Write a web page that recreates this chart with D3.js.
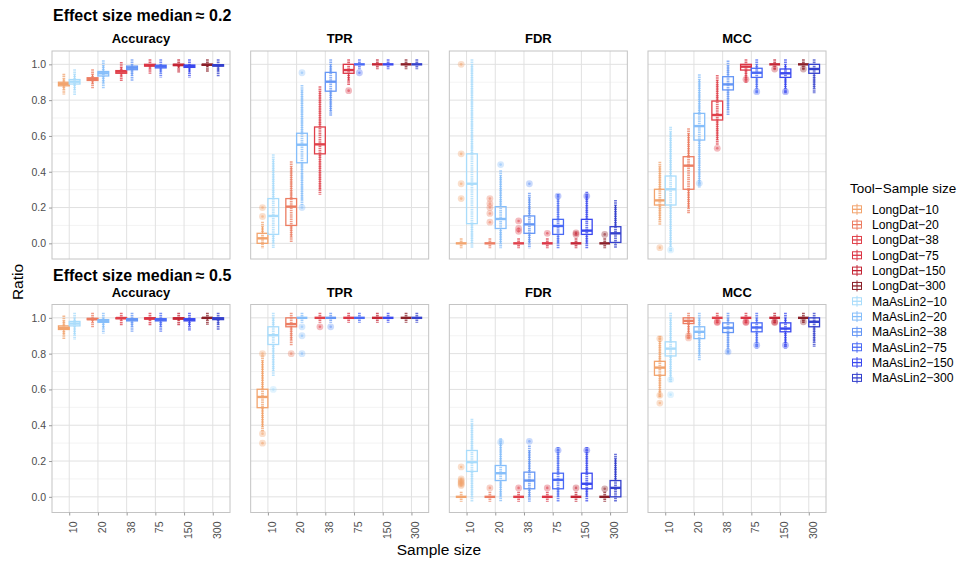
<!DOCTYPE html>
<html>
<head>
<meta charset="utf-8">
<script src="https://cdn.jsdelivr.net/npm/d3@7"></script>
<style>
  body { margin: 0; background: #fff; }
  text { font-family: "Liberation Sans", Arial, Helvetica, sans-serif; }
</style>
</head>
<body>
<svg id="chart" width="968" height="563"></svg>
<script>
// ---- categories ----
const sizes = ["10", "20", "38", "75", "150", "300"];
const tools = ["LongDat", "MaAsLin2"];
const metrics = ["Accuracy", "TPR", "FDR", "MCC"];
const effectTitles = ["Effect size median\u2009\u2248 0.2", "Effect size median\u2009\u2248 0.5"];
const yTicks = [0, 0.2, 0.4, 0.6, 0.8, 1.0];
const yMinor = [0.1, 0.3, 0.5, 0.7, 0.9];

// ---- colours, one per sample size ----
const colorsLongDat = ["#f2a46e", "#ec7d62", "#e0404a", "#db3545", "#c42535", "#8a1f28"];
const colorsMaAsLin2 = ["#a9dcfb", "#86befa", "#6596f5", "#4a6af5", "#3a48ef", "#3440cc"];

// ---- box statistics: [lower whisker, Q1, median, Q3, upper whisker] per sample size ----
// effect size median ~ 0.2
const acc02LongDat  = [[0.86,0.88,0.89,0.90,0.92],[0.89,0.91,0.918,0.925,0.945],[0.93,0.95,0.959,0.965,0.985],[0.975,0.99,0.995,1,1],[0.98,0.993,0.997,1,1],[0.985,0.995,0.998,1,1]];
const acc02MaAsLin2 = [[0.855,0.89,0.903,0.915,0.945],[0.895,0.935,0.95,0.96,0.995],[0.935,0.97,0.981,0.99,1],[0.955,0.98,0.988,0.995,1],[0.955,0.983,0.99,0.996,1],[0.96,0.99,0.995,0.998,1]];
const tpr02LongDat  = [[0,0,0.028,0.056,0.093],[0.035,0.1,0.205,0.25,0.43],[0.3,0.5,0.553,0.65,0.85],[0.91,0.95,0.968,1,1],[1,1,1,1,1],[1,1,1,1,1]];
const tpr02MaAsLin2 = [[0,0.05,0.153,0.25,0.47],[0.24,0.45,0.551,0.615,0.857],[0.736,0.85,0.903,0.955,1],[1,1,1,1,1],[1,1,1,1,1],[1,1,1,1,1]];
const fdr02LongDat  = [[0,0,0,0,0],[0,0,0,0,0],[0,0,0,0,0],[0,0,0,0,0],[0,0,0,0,0],[0,0,0,0,0]];
const fdr02MaAsLin2 = [[0,0.11,0.333,0.5,1],[0,0.083,0.136,0.205,0.38],[0,0.056,0.106,0.153,0.255],[0,0.05,0.097,0.134,0.248],[0,0.05,0.071,0.134,0.26],[0,0.005,0.056,0.093,0.214]];
const mcc02LongDat  = [[0.13,0.214,0.24,0.302,0.428],[0.196,0.302,0.434,0.484,0.615],[0.577,0.689,0.717,0.795,0.912],[0.922,0.968,0.987,1,1],[1,1,1,1,1],[1,1,1,1,1]];
const mcc02MaAsLin2 = [[-0.02,0.214,0.302,0.376,0.624],[0.34,0.577,0.655,0.726,0.916],[0.745,0.857,0.888,0.931,0.993],[0.866,0.927,0.953,0.978,1],[0.866,0.927,0.95,0.974,1],[0.866,0.95,0.974,1,1]];
// effect size median ~ 0.5
const acc05LongDat  = [[0.905,0.935,0.944,0.955,0.985],[0.975,0.99,0.993,0.997,1],[0.985,0.995,0.999,1,1],[0.985,0.993,0.997,1,1],[0.985,0.993,0.997,1,1],[0.99,0.997,1,1,1]];
const acc05MaAsLin2 = [[0.905,0.955,0.968,0.98,1],[0.94,0.975,0.983,0.99,1],[0.95,0.983,0.99,0.995,1],[0.95,0.983,0.99,0.995,1],[0.955,0.983,0.99,0.995,1],[0.96,0.99,0.996,1,1]];
const tpr05LongDat  = [[0.39,0.498,0.558,0.601,0.763],[0.875,0.95,0.965,1,1],[1,1,1,1,1],[1,1,1,1,1],[1,1,1,1,1],[1,1,1,1,1]];
const tpr05MaAsLin2 = [[0.703,0.851,0.903,0.95,1],[1,1,1,1,1],[1,1,1,1,1],[1,1,1,1,1],[1,1,1,1,1],[1,1,1,1,1]];
const fdr05LongDat  = [[0,0,0,0,0],[0,0,0,0,0],[0,0,0,0,0],[0,0,0,0,0],[0,0,0,0,0],[0,0,0,0,0]];
const fdr05MaAsLin2 = [[0,0.142,0.194,0.259,0.409],[0,0.091,0.132,0.175,0.3],[0,0.045,0.091,0.138,0.259],[0,0.045,0.095,0.132,0.25],[0,0.045,0.073,0.132,0.25],[0,0,0.05,0.091,0.213]];
const mcc05LongDat  = [[0.58,0.679,0.722,0.757,0.87],[0.912,0.968,0.983,1,1],[1,1,1,1,1],[1,1,1,1,1],[1,1,1,1,1],[1,1,1,1,1]];
const mcc05MaAsLin2 = [[0.67,0.787,0.828,0.866,1],[0.791,0.884,0.922,0.95,1],[0.828,0.918,0.944,0.972,1],[0.856,0.922,0.946,0.972,1],[0.856,0.922,0.94,0.972,1],[0.866,0.95,0.978,1,1]];

// ---- outliers per sample size ----
const acc02LongDatOut  = [[],[],[],[],[],[]];
const acc02MaAsLin2Out = [[],[],[],[],[],[]];
const tpr02LongDatOut  = [[0.15,0.2],[],[],[0.853],[],[]];
const tpr02MaAsLin2Out = [[],[0.2,0.953],[],[0.953],[],[]];
const fdr02LongDatOut  = [[1,0.5,0.333,0.25],[0.25,0.222,0.2,0.167,0.118],[0.125,0.083,0.067],[0.056],[0.059,0.05],[0.05]];
const fdr02MaAsLin2Out = [[],[0.44],[0.333],[0.264],[0.264],[]];
const mcc02LongDatOut  = [[-0.024],[],[0.531],[0.916],[0.974],[0.974]];
const mcc02MaAsLin2Out = [[-0.037],[0.335],[],[0.847],[0.847],[]];
const acc05LongDatOut  = [[],[],[],[],[],[]];
const acc05MaAsLin2Out = [[],[],[],[],[],[]];
const tpr05LongDatOut  = [[0.8,0.353,0.3],[0.8],[0.95],[],[],[]];
const tpr05MaAsLin2Out = [[0.6],[0.95,0.9,0.8],[0.95],[],[],[]];
const fdr05LongDatOut  = [[0.167,0.1,0.091,0.083,0.077,0.071,0.063],[0.05],[0.05],[0.05],[0.05],[0.045]];
const fdr05MaAsLin2Out = [[],[0.306],[0.31],[0.26],[0.26],[]];
const mcc05LongDatOut  = [[0.884,0.567,0.524],[0.9,0.888],[0.978,0.974],[0.978,0.974],[0.978,0.974],[0.978]];
const mcc05MaAsLin2Out = [[0.655,0.571],[],[0.81],[0.847],[0.847],[]];

const panels = [
  { row: 0, metric: "Accuracy", LongDat: acc02LongDat, MaAsLin2: acc02MaAsLin2, outLongDat: acc02LongDatOut, outMaAsLin2: acc02MaAsLin2Out },
  { row: 0, metric: "TPR",      LongDat: tpr02LongDat, MaAsLin2: tpr02MaAsLin2, outLongDat: tpr02LongDatOut, outMaAsLin2: tpr02MaAsLin2Out },
  { row: 0, metric: "FDR",      LongDat: fdr02LongDat, MaAsLin2: fdr02MaAsLin2, outLongDat: fdr02LongDatOut, outMaAsLin2: fdr02MaAsLin2Out },
  { row: 0, metric: "MCC",      LongDat: mcc02LongDat, MaAsLin2: mcc02MaAsLin2, outLongDat: mcc02LongDatOut, outMaAsLin2: mcc02MaAsLin2Out },
  { row: 1, metric: "Accuracy", LongDat: acc05LongDat, MaAsLin2: acc05MaAsLin2, outLongDat: acc05LongDatOut, outMaAsLin2: acc05MaAsLin2Out },
  { row: 1, metric: "TPR",      LongDat: tpr05LongDat, MaAsLin2: tpr05MaAsLin2, outLongDat: tpr05LongDatOut, outMaAsLin2: tpr05MaAsLin2Out },
  { row: 1, metric: "FDR",      LongDat: fdr05LongDat, MaAsLin2: fdr05MaAsLin2, outLongDat: fdr05LongDatOut, outMaAsLin2: fdr05MaAsLin2Out },
  { row: 1, metric: "MCC",      LongDat: mcc05LongDat, MaAsLin2: mcc05MaAsLin2, outLongDat: mcc05LongDatOut, outMaAsLin2: mcc05MaAsLin2Out }
];
const palette = { LongDat: colorsLongDat, MaAsLin2: colorsMaAsLin2 };

// ---- layout ----
const svg = d3.select("#chart");
const colScale = d3.scaleBand().domain(metrics).range([52, 826]).paddingInner(0.104);
const rowRanges = [[259, 51], [512.5, 304.5]];
const yDomain = [-0.0875, 1.0745];

svg.append("rect").attr("width", 968).attr("height", 563).attr("fill", "#fff");

// row titles
effectTitles.forEach((t, r) => {
  svg.append("text")
    .attr("x", 53).attr("y", r === 0 ? 21 : 281)
    .attr("font-size", 16).attr("font-weight", "bold").attr("fill", "#000")
    .text(t);
});

panels.forEach(p => {
  const x0 = colScale(p.metric), pw = colScale.bandwidth();
  const [yb, yt] = rowRanges[p.row];
  const x = d3.scalePoint().domain(sizes).range([x0, x0 + pw]).padding(0.6);
  const dodge = d3.scaleBand().domain(tools).range([-0.375 * x.step(), 0.375 * x.step()]);
  const y = d3.scaleLinear().domain(yDomain).range([yb, yt]);
  const g = svg.append("g");

  // strip title
  g.append("text")
    .attr("x", x0 + pw / 2).attr("y", yt - 8)
    .attr("text-anchor", "middle").attr("font-size", 13).attr("font-weight", "bold")
    .text(p.metric);

  // panel background and grid
  g.append("rect").attr("x", x0).attr("y", yt).attr("width", pw).attr("height", yb - yt).attr("fill", "#fff");
  g.selectAll(".minor").data(yMinor).join("line")
    .attr("x1", x0).attr("x2", x0 + pw)
    .attr("y1", d => y(d)).attr("y2", d => y(d))
    .attr("stroke", "#f0f0f0").attr("stroke-width", 0.8);
  g.selectAll(".major").data(yTicks).join("line")
    .attr("x1", x0).attr("x2", x0 + pw)
    .attr("y1", d => y(d)).attr("y2", d => y(d))
    .attr("stroke", "#e1e1e1").attr("stroke-width", 1);
  g.selectAll(".vgrid").data(sizes).join("line")
    .attr("x1", d => x(d)).attr("x2", d => x(d))
    .attr("y1", yt).attr("y2", yb)
    .attr("stroke", "#e1e1e1").attr("stroke-width", 1);

  // boxes
  tools.forEach(tool => {
    const stats = p[tool], outs = p["out" + tool];
    const bw = dodge.bandwidth();
    sizes.forEach((s, i) => {
      const [lo, q1, med, q3, hi] = stats[i];
      const col = palette[tool][i];
      const cx = x(s) + dodge(tool) + bw / 2;
      const bg = g.append("g");
      // whiskers
      bg.append("line").attr("x1", cx).attr("x2", cx).attr("y1", y(hi)).attr("y2", y(q3))
        .attr("stroke", col).attr("stroke-width", 1.1);
      bg.append("line").attr("x1", cx).attr("x2", cx).attr("y1", y(q1)).attr("y2", y(lo))
        .attr("stroke", col).attr("stroke-width", 1.1);
      // box
      bg.append("rect").attr("x", cx - bw / 2).attr("y", y(q3))
        .attr("width", bw).attr("height", Math.max(0, y(q1) - y(q3)))
        .attr("fill", "none").attr("stroke", col).attr("stroke-width", 1.3);
      // median
      bg.append("line").attr("x1", cx - bw / 2).attr("x2", cx + bw / 2)
        .attr("y1", y(med)).attr("y2", y(med))
        .attr("stroke", col).attr("stroke-width", 2.4);
      // strip of observations along the whisker range
      bg.append("line").attr("x1", cx).attr("x2", cx)
        .attr("y1", y(hi) - 5).attr("y2", y(lo) + 5)
        .attr("stroke", col).attr("stroke-width", 2.8)
        .attr("stroke-dasharray", "1.5 0.7").attr("opacity", 0.75);
      // outliers
      outs[i].forEach(v => {
        bg.append("circle").attr("cx", cx).attr("cy", y(v)).attr("r", 3.4)
          .attr("fill", col).attr("opacity", 0.35);
        bg.append("circle").attr("cx", cx).attr("cy", y(v)).attr("r", 1.3)
          .attr("fill", col).attr("opacity", 0.55);
      });
    });
  });

  // panel border
  g.append("rect").attr("x", x0).attr("y", yt).attr("width", pw).attr("height", yb - yt)
    .attr("fill", "none").attr("stroke", "#c4c4c4").attr("stroke-width", 1);

  // y axis on the first column
  if (p.metric === metrics[0]) {
    const ax = g.append("g").attr("transform", `translate(${x0},0)`)
      .call(d3.axisLeft(y).tickValues(yTicks).tickFormat(d3.format(".1f")).tickSize(3).tickPadding(3));
    ax.select(".domain").remove();
    ax.selectAll("line").attr("stroke", "#9a9a9a");
    ax.selectAll("text").attr("font-size", 10.5).attr("fill", "#4d4d4d")
      .style("font-family", '"Liberation Sans", Arial, sans-serif');
  }
  // x axis on the bottom row
  if (p.row === 1) {
    const ax = g.append("g").attr("transform", `translate(0,${yb})`)
      .call(d3.axisBottom(x).tickSize(3).tickPadding(3));
    ax.select(".domain").remove();
    ax.selectAll("line").attr("stroke", "#9a9a9a");
    ax.selectAll("text")
      .attr("transform", "rotate(-90)")
      .attr("text-anchor", "end")
      .attr("x", -9).attr("y", 0).attr("dy", "0.7em")
      .attr("font-size", 10.5).attr("fill", "#4d4d4d")
      .style("font-family", '"Liberation Sans", Arial, sans-serif');
  }
});

// axis titles
svg.append("text").attr("x", 439).attr("y", 555).attr("text-anchor", "middle")
  .attr("font-size", 15.5).attr("fill", "#000").text("Sample size");
svg.append("text").attr("transform", "translate(23,282) rotate(-90)").attr("text-anchor", "middle")
  .attr("font-size", 15.5).attr("fill", "#000").text("Ratio");

// legend
const legendItems = [];
tools.forEach(tool => sizes.forEach((s, i) => legendItems.push({ label: `${tool}\u2212${s}`, color: palette[tool][i] })));
const lg = svg.append("g");
lg.append("text").attr("x", 850).attr("y", 193).attr("font-size", 13.5).attr("fill", "#000")
  .text("Tool\u2212Sample size");
const ly = d3.scalePoint().domain(legendItems.map(d => d.label)).range([209.3, 377.9]);
legendItems.forEach(d => {
  const cy = ly(d.label), cx = 857;
  const k = lg.append("g");
  k.append("line").attr("x1", cx).attr("x2", cx).attr("y1", cy - 5.5).attr("y2", cy + 5.5)
    .attr("stroke", d.color).attr("stroke-width", 1);
  k.append("rect").attr("x", cx - 4.5).attr("y", cy - 3.5).attr("width", 9).attr("height", 7)
    .attr("fill", "#fff").attr("stroke", d.color).attr("stroke-width", 1);
  k.append("line").attr("x1", cx - 4.5).attr("x2", cx + 4.5).attr("y1", cy).attr("y2", cy)
    .attr("stroke", d.color).attr("stroke-width", 1.3);
  k.append("line").attr("x1", cx).attr("x2", cx).attr("y1", cy - 3.5).attr("y2", cy + 3.5)
    .attr("stroke", d.color).attr("stroke-width", 1);
  k.append("text").attr("x", 872).attr("y", cy).attr("dy", "0.35em")
    .attr("font-size", 12.2).attr("fill", "#000").text(d.label);
});
</script>
</body>
</html>
